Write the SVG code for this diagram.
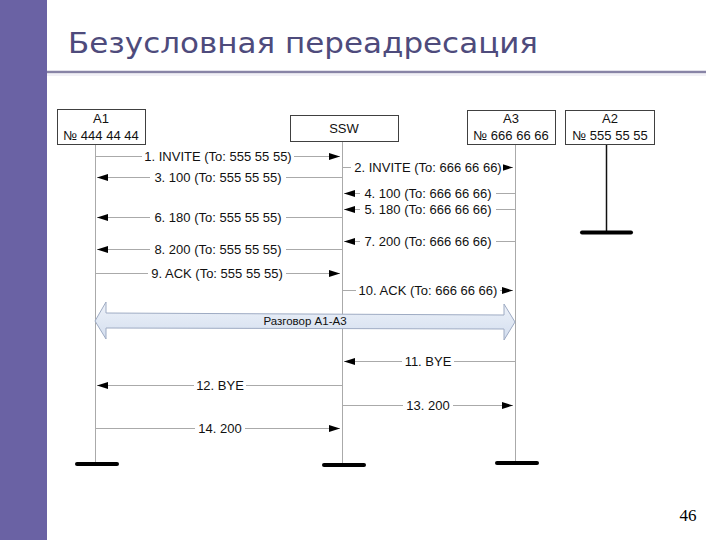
<svg xmlns="http://www.w3.org/2000/svg" width="720" height="540" viewBox="0 0 720 540">
<defs>
<marker id="ah" viewBox="0 0 11 7" refX="11" refY="3.5" markerWidth="11" markerHeight="7" markerUnits="userSpaceOnUse" orient="auto">
<path d="M0,0 L11,3.5 L0,7 Z" fill="#000"/>
</marker>
<linearGradient id="bg" x1="0" y1="0" x2="0" y2="1">
<stop offset="0" stop-color="#eef2f9"/>
<stop offset="1" stop-color="#d3deef"/>
</linearGradient>
<style>
.box{fill:#fff;stroke:#404040;stroke-width:1}
.bt{font-family:"Liberation Sans",Arial,sans-serif;font-size:13px;fill:#111;text-anchor:middle}
.life{stroke:#aaa;stroke-width:1}
.bar{stroke:#000;stroke-width:4;stroke-linecap:round}
.msg{stroke:#aaa;stroke-width:1;fill:none}
.lb{fill:#fff}
.ml{font-family:"Liberation Sans",Arial,sans-serif;font-size:13px;fill:#111;text-anchor:middle}
</style>
</defs>
<rect width="720" height="540" fill="#fff"/>
<rect x="0" y="0" width="47" height="540" fill="#6a62a4"/>
<text x="68" y="53" font-family="'DejaVu Sans',Verdana,sans-serif" font-size="28" fill="#4e4b7c" textLength="470" lengthAdjust="spacingAndGlyphs">Безусловная переадресация</text>
<line x1="47" y1="72" x2="706" y2="72" stroke="#8884a6" stroke-width="2.5"/>
<line x1="47" y1="75" x2="706" y2="75" stroke="#e4e2ee" stroke-width="1"/>

<g id="A1">
<rect class="box" x="57.5" y="109.5" width="88" height="35"/>
<text class="bt" x="101" y="123">A1</text>
<text class="bt" x="101" y="140">№ 444 44 44</text>
<line class="life" x1="95.5" y1="145" x2="95.5" y2="464"/>
<line class="bar" x1="77" y1="464" x2="117" y2="464"/>
</g>
<g id="SSW">
<rect class="box" x="290.5" y="115.5" width="108" height="26"/>
<text class="bt" x="344" y="133">SSW</text>
<line class="life" x1="342.5" y1="142" x2="342.5" y2="465"/>
<line class="bar" x1="324" y1="465" x2="364" y2="465"/>
</g>
<g id="A3">
<rect class="box" x="467.5" y="110.5" width="88" height="34"/>
<text class="bt" x="511" y="123">A3</text>
<text class="bt" x="511" y="140">№ 666 66 66</text>
<line class="life" x1="515.5" y1="145" x2="515.5" y2="463"/>
<line class="bar" x1="497" y1="463" x2="537" y2="463"/>
</g>
<g id="A2">
<rect class="box" x="565.5" y="110.5" width="89" height="34"/>
<text class="bt" x="610" y="123">A2</text>
<text class="bt" x="610" y="140">№ 555 55 55</text>
<line x1="606.5" y1="145" x2="606.5" y2="232" stroke="#111" stroke-width="1.5"/>
<line class="bar" x1="582" y1="232.5" x2="631" y2="232.5"/>
</g>

<g id="connectors">
<line class="msg" x1="96" y1="156.5" x2="340" y2="156.5" marker-end="url(#ah)"/>
<rect class="lb" x="142" y="150" width="152" height="13"/>
<text class="ml" x="218" y="161">1. INVITE (To: 555 55 55)</text>
<line class="msg" x1="343" y1="167.5" x2="513" y2="167.5" marker-end="url(#ah)"/>
<rect class="lb" x="351" y="161" width="152" height="13"/>
<text class="ml" x="428" y="172">2. INVITE (To: 666 66 66)</text>
<line class="msg" x1="342" y1="177.5" x2="97" y2="177.5" marker-end="url(#ah)"/>
<rect class="lb" x="150" y="171" width="136" height="13"/>
<text class="ml" x="218" y="182">3. 100 (To: 555 55 55)</text>
<line class="msg" x1="515" y1="193.5" x2="344" y2="193.5" marker-end="url(#ah)"/>
<rect class="lb" x="360" y="187" width="136" height="13"/>
<text class="ml" x="428" y="198">4. 100 (To: 666 66 66)</text>
<line class="msg" x1="515" y1="209.5" x2="344" y2="209.5" marker-end="url(#ah)"/>
<rect class="lb" x="360" y="203" width="136" height="13"/>
<text class="ml" x="428" y="214">5. 180 (To: 666 66 66)</text>
<line class="msg" x1="342" y1="217.5" x2="97" y2="217.5" marker-end="url(#ah)"/>
<rect class="lb" x="150" y="211" width="136" height="13"/>
<text class="ml" x="218" y="222">6. 180 (To: 555 55 55)</text>
<line class="msg" x1="515" y1="241.5" x2="344" y2="241.5" marker-end="url(#ah)"/>
<rect class="lb" x="360" y="235" width="136" height="13"/>
<text class="ml" x="428" y="246">7. 200 (To: 666 66 66)</text>
<line class="msg" x1="342" y1="249.5" x2="97" y2="249.5" marker-end="url(#ah)"/>
<rect class="lb" x="150" y="243" width="136" height="13"/>
<text class="ml" x="218" y="254">8. 200 (To: 555 55 55)</text>
<line class="msg" x1="96" y1="273.5" x2="340" y2="273.5" marker-end="url(#ah)"/>
<rect class="lb" x="148" y="267" width="138" height="13"/>
<text class="ml" x="217" y="278">9. ACK (To: 555 55 55)</text>
<line class="msg" x1="343" y1="290.5" x2="513" y2="290.5" marker-end="url(#ah)"/>
<rect class="lb" x="356" y="284" width="144" height="13"/>
<text class="ml" x="428" y="295">10. ACK (To: 666 66 66)</text>

<path d="M95,321 L106,302 L106,313 L504,315 L504,304 L515,322 L504,340 L504,329 L106,328 L106,339 Z" fill="url(#bg)" stroke="#9eabc3" stroke-width="1"/>
<text x="305" y="325" font-family="'Liberation Sans',Arial,sans-serif" font-size="11.5" fill="#111" text-anchor="middle">Разговор A1-A3</text>

<line class="msg" x1="515" y1="361.5" x2="344" y2="361.5" marker-end="url(#ah)"/>
<rect class="lb" x="402" y="355" width="52" height="13"/>
<text class="ml" x="428" y="366">11. BYE</text>
<line class="msg" x1="342" y1="385.5" x2="97" y2="385.5" marker-end="url(#ah)"/>
<rect class="lb" x="194" y="379" width="52" height="13"/>
<text class="ml" x="220" y="390">12. BYE</text>
<line class="msg" x1="343" y1="405.5" x2="513" y2="405.5" marker-end="url(#ah)"/>
<rect class="lb" x="403" y="399" width="50" height="13"/>
<text class="ml" x="428" y="410">13. 200</text>
<line class="msg" x1="96" y1="428.5" x2="340" y2="428.5" marker-end="url(#ah)"/>
<rect class="lb" x="195" y="422" width="50" height="13"/>
<text class="ml" x="220" y="433">14. 200</text>
</g>

<text x="688" y="521" font-family="'Liberation Serif','Times New Roman',serif" font-size="17" fill="#000" text-anchor="middle">46</text>
</svg>
